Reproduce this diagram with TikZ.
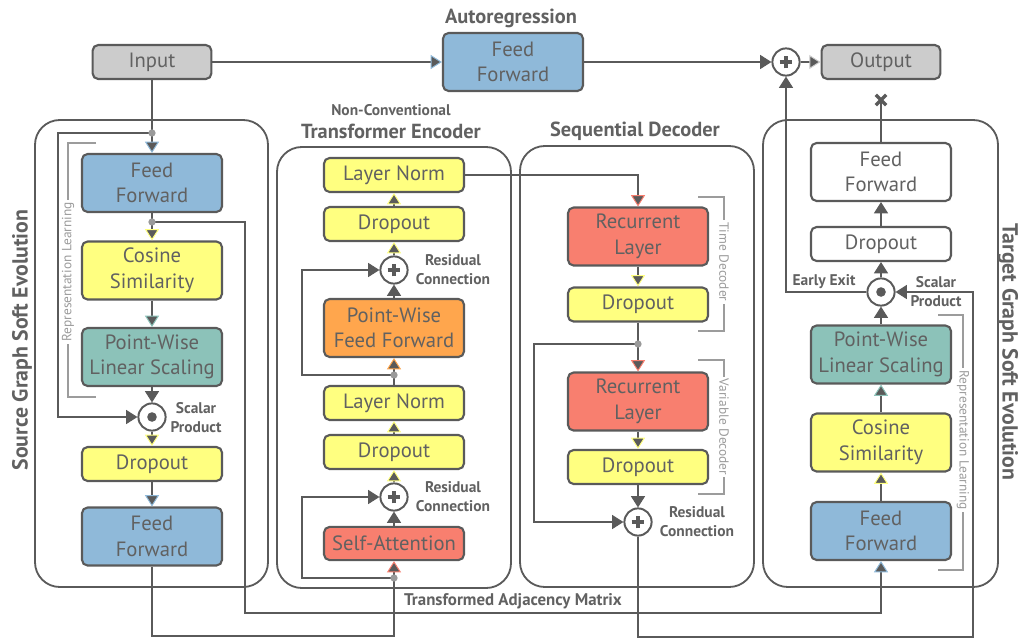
\documentclass[tikz,border=0pt]{standalone}
\usepackage{fontspec}
\setmainfont{PT Sans}
\usetikzlibrary{arrows.meta}

\definecolor{linecol}{HTML}{5A5A5A}
\definecolor{textcol}{HTML}{616161}
\definecolor{dotcol}{HTML}{9A9A9A}
\definecolor{brkcol}{HTML}{9C9C9C}
\definecolor{boxgray}{HTML}{CCCCCC}
\definecolor{boxblue}{HTML}{8FB9D9}
\definecolor{boxyellow}{HTML}{FFFF80}
\definecolor{boxteal}{HTML}{8CC2B9}
\definecolor{boxorange}{HTML}{FFA64D}
\definecolor{boxred}{HTML}{F87F6F}

\tikzset{
  box/.style={draw=linecol, line width=1.5pt, rounded corners=4pt, minimum width=3.5cm,
    inner sep=0pt, align=center, text=textcol, font=\fontsize{14.7}{18.2}\selectfont},
  onebox/.style={box, minimum height=0.85cm},
  twobox/.style={box, minimum height=1.45cm},
  panel/.style={draw=linecol, line width=1.3pt, rounded corners=0.62cm},
  conn/.style={draw=linecol, line width=1.3pt},
  arr/.style={-{Triangle[length=8pt, width=10pt, line width=0.7pt, color=#1, fill=linecol]}},
  arr/.default=linecol,
  opnode/.style={circle, draw=linecol, line width=1.4pt, fill=white, minimum size=0.68cm, inner sep=0pt},
  plusop/.style={opnode, path picture={
    \draw[linecol, line width=2.2pt] ([xshift=-0.16cm]path picture bounding box.center)
      -- ([xshift=0.16cm]path picture bounding box.center);
    \draw[linecol, line width=2.2pt] ([yshift=-0.16cm]path picture bounding box.center)
      -- ([yshift=0.16cm]path picture bounding box.center);}},
  dotop/.style={opnode, path picture={
    \fill[linecol] (path picture bounding box.center) circle (0.12cm);}},
  title/.style={text=textcol, font=\bfseries\fontsize{14.5}{16}\selectfont},
  subtitle/.style={text=textcol, align=center, font=\bfseries\fontsize{11}{13.5}\selectfont},
  sidetitle/.style={text=textcol, font=\bfseries\fontsize{15.5}{17}\selectfont},
  brk/.style={draw=brkcol, line width=1.3pt},
  brklabel/.style={fill=white, inner sep=1.5pt, text=brkcol, font=\fontsize{9.5}{11}\selectfont},
}

\begin{document}
\begin{tikzpicture}[x=0.025cm, y=-0.025cm]
\useasboundingbox (0,0) rectangle (1018,639);

% panels
\draw[panel] (35,120) rectangle (268,587);
\draw[panel] (277,147) rectangle (511,588);
\draw[panel] (520,146) rectangle (754,587);
\draw[panel] (763,120) rectangle (998,587);

% top row
\node[onebox, fill=boxgray, minimum width=2.97cm] (input) at (152,62) {Input};
\node[twobox, fill=boxblue] (arff) at (513,62) {Feed\\Forward};
\node[plusop] (outplus) at (786,62) {};
\node[onebox, fill=boxgray, minimum width=2.97cm] (output) at (881,62) {Output};
\node[title] (artitle) at (511,18) {Autoregression};

% source graph soft evolution
\node[sidetitle, rotate=90] (stitle) at (22,340) {Source Graph Soft Evolution};
\node[twobox, fill=boxblue] (sff1) at (152,183) {Feed\\Forward};
\node[twobox, fill=boxyellow] (scos) at (152,270.5) {Cosine\\Similarity};
\node[twobox, fill=boxteal] (spwls) at (152,357) {Point-Wise\\Linear Scaling};
\node[dotop] (sprod) at (152,417) {};
\node[subtitle] (sprodlbl) at (196,418) {Scalar\\Product};
\node[onebox, fill=boxyellow] (sdrop) at (152,464) {Dropout};
\node[twobox, fill=boxblue] (sff2) at (152,536.5) {Feed\\Forward};
\coordinate (sdot1) at (152,133);
\coordinate (sdot2) at (152,222);

% transformer encoder
\node[subtitle] (enctop) at (391,110) {Non-Conventional};
\node[title] (enctitle) at (391,131) {Transformer Encoder};
\node[onebox, fill=boxyellow] (eln1) at (394,175) {Layer Norm};
\node[onebox, fill=boxyellow] (edrop1) at (394,224) {Dropout};
\node[plusop] (eres1) at (394,270) {};
\node[subtitle] (eres1lbl) at (453,270) {Residual\\Connection};
\node[twobox, fill=boxorange] (epwff) at (394,328) {Point-Wise\\Feed Forward};
\node[onebox, fill=boxyellow] (eln2) at (394,403) {Layer Norm};
\node[onebox, fill=boxyellow] (edrop2) at (394,452) {Dropout};
\node[plusop] (eres2) at (394,497) {};
\node[subtitle] (eres2lbl) at (453,497) {Residual\\Connection};
\node[onebox, fill=boxred, minimum height=0.83cm] (eatt) at (394,543.5) {Self-Attention};
\coordinate (edot1) at (394,375);
\coordinate (edot2) at (394,578);

% sequential decoder
\node[title] (dectitle) at (635,131) {Sequential Decoder};
\node[twobox, fill=boxred] (drec1) at (638,236.5) {Recurrent\\Layer};
\node[onebox, fill=boxyellow] (ddrop1) at (638,304.5) {Dropout};
\node[twobox, fill=boxred] (drec2) at (638,401.5) {Recurrent\\Layer};
\node[onebox, fill=boxyellow] (ddrop2) at (638,467) {Dropout};
\node[plusop] (dres) at (638,522) {};
\node[subtitle] (dreslbl) at (697,522) {Residual\\Connection};
\coordinate (ddot) at (638,344);

% target graph soft evolution
\node[sidetitle, rotate=-90] (ttitle) at (1008,352) {Target Graph Soft Evolution};
\node[twobox, fill=white] (tff1) at (881,172) {Feed\\Forward};
\node[onebox, fill=white] (tdrop) at (881,244) {Dropout};
\node[dotop] (tprod) at (881,292) {};
\node[subtitle] (tprodlbl) at (936,292) {Scalar\\Product};
\node[subtitle] (texitlbl) at (824,282) {Early Exit};
\node[twobox, fill=boxteal] (tpwls) at (881,354.5) {Point-Wise\\Linear Scaling};
\node[twobox, fill=boxyellow] (tcos) at (881,442.5) {Cosine\\Similarity};
\node[twobox, fill=boxblue] (tff2) at (881,531) {Feed\\Forward};
\coordinate (texit) at (881,100);

% brackets
\draw[brk] (96,143) -- (68,143) -- (68,397) -- (96,397);
\node[brklabel, rotate=90] (srep) at (68,272) {Representation Learning};
\draw[brk] (698,197) -- (724,197) -- (724,331) -- (698,331);
\node[brklabel, rotate=-90] (dtime) at (724,262) {Time Decoder};
\draw[brk] (698,360) -- (724,360) -- (724,494) -- (698,494);
\node[brklabel, rotate=-90] (dvar) at (724,427) {Variable Decoder};
\draw[brk] (938,315) -- (963,315) -- (963,570) -- (938,570);
\node[brklabel, rotate=-90] (trep) at (963,440) {Representation Learning};

% autoregression
\draw[conn, arr=boxblue] (input) -- (arff);
\draw[conn, arr] (arff) -- (outplus);
\draw[conn, arr=boxgray] (outplus) -- (output);

% source flow
\draw[conn, arr=boxblue] (input) -- (sff1);
\draw[conn, arr] (sdot1) -| (58,417) -- (sprod);
\draw[conn, arr=boxyellow] (sff1) -- (scos);
\draw[conn, arr=boxteal] (scos) -- (spwls);
\draw[conn, arr] (spwls) -- (sprod);
\draw[conn, arr=boxyellow] (sprod) -- (sdrop);
\draw[conn, arr=boxblue] (sdrop) -- (sff2);

% encoder flow
\draw[conn, arr=boxred] (sff2) |- (394,636) -- (eatt);
\draw[conn, arr] (edot2) -| (302,497) -- (eres2);
\draw[conn, arr] (eatt) -- (eres2);
\draw[conn, arr=boxyellow] (eres2) -- (edrop2);
\draw[conn, arr=boxyellow] (edrop2) -- (eln2);
\draw[conn, arr=boxorange] (eln2) -- (epwff);
\draw[conn, arr] (edot1) -| (302,270) -- (eres1);
\draw[conn, arr] (epwff) -- (eres1);
\draw[conn, arr=boxyellow] (eres1) -- (edrop1);
\draw[conn, arr=boxyellow] (edrop1) -- (eln1);

% decoder flow
\draw[conn, arr=boxred] (eln1) -| (drec1);
\draw[conn, arr=boxyellow] (drec1) -- (ddrop1);
\draw[conn, arr=boxred] (ddrop1) -- (drec2);
\draw[conn, arr] (ddot) -| (534,522) -- (dres);
\draw[conn, arr=boxyellow] (drec2) -- (ddrop2);
\draw[conn, arr] (ddrop2) -- (dres);

% target flow
\draw[conn, arr=boxblue] (sdot2) -| (245,613) -| (tff2);
\node[subtitle, font=\bfseries\fontsize{12}{14}\selectfont] (adjlbl) at (513,601) {Transformed Adjacency Matrix};
\draw[conn, arr] (dres) |- (973,637) |- (tprod);
\draw[conn, arr=boxyellow] (tff2) -- (tcos);
\draw[conn, arr=boxteal] (tcos) -- (tpwls);
\draw[conn, arr] (tpwls) -- (tprod);
\draw[conn, arr] (tprod) -- (tdrop);
\draw[conn, arr] (tdrop) -- (tff1);
\draw[conn] (tff1) -- (texit);
\draw[linecol, line width=2.4pt] ([shift={(-0.13cm,-0.13cm)}]texit) -- ([shift={(0.13cm,0.13cm)}]texit)
  ([shift={(-0.13cm,0.13cm)}]texit) -- ([shift={(0.13cm,-0.13cm)}]texit);
\draw[conn, arr] (tprod) -| (outplus);

% junction dots
\foreach \d in {sdot1, sdot2, edot1, edot2, ddot}
  \fill[dotcol] (\d) circle (2.6pt);
\end{tikzpicture}
\end{document}
